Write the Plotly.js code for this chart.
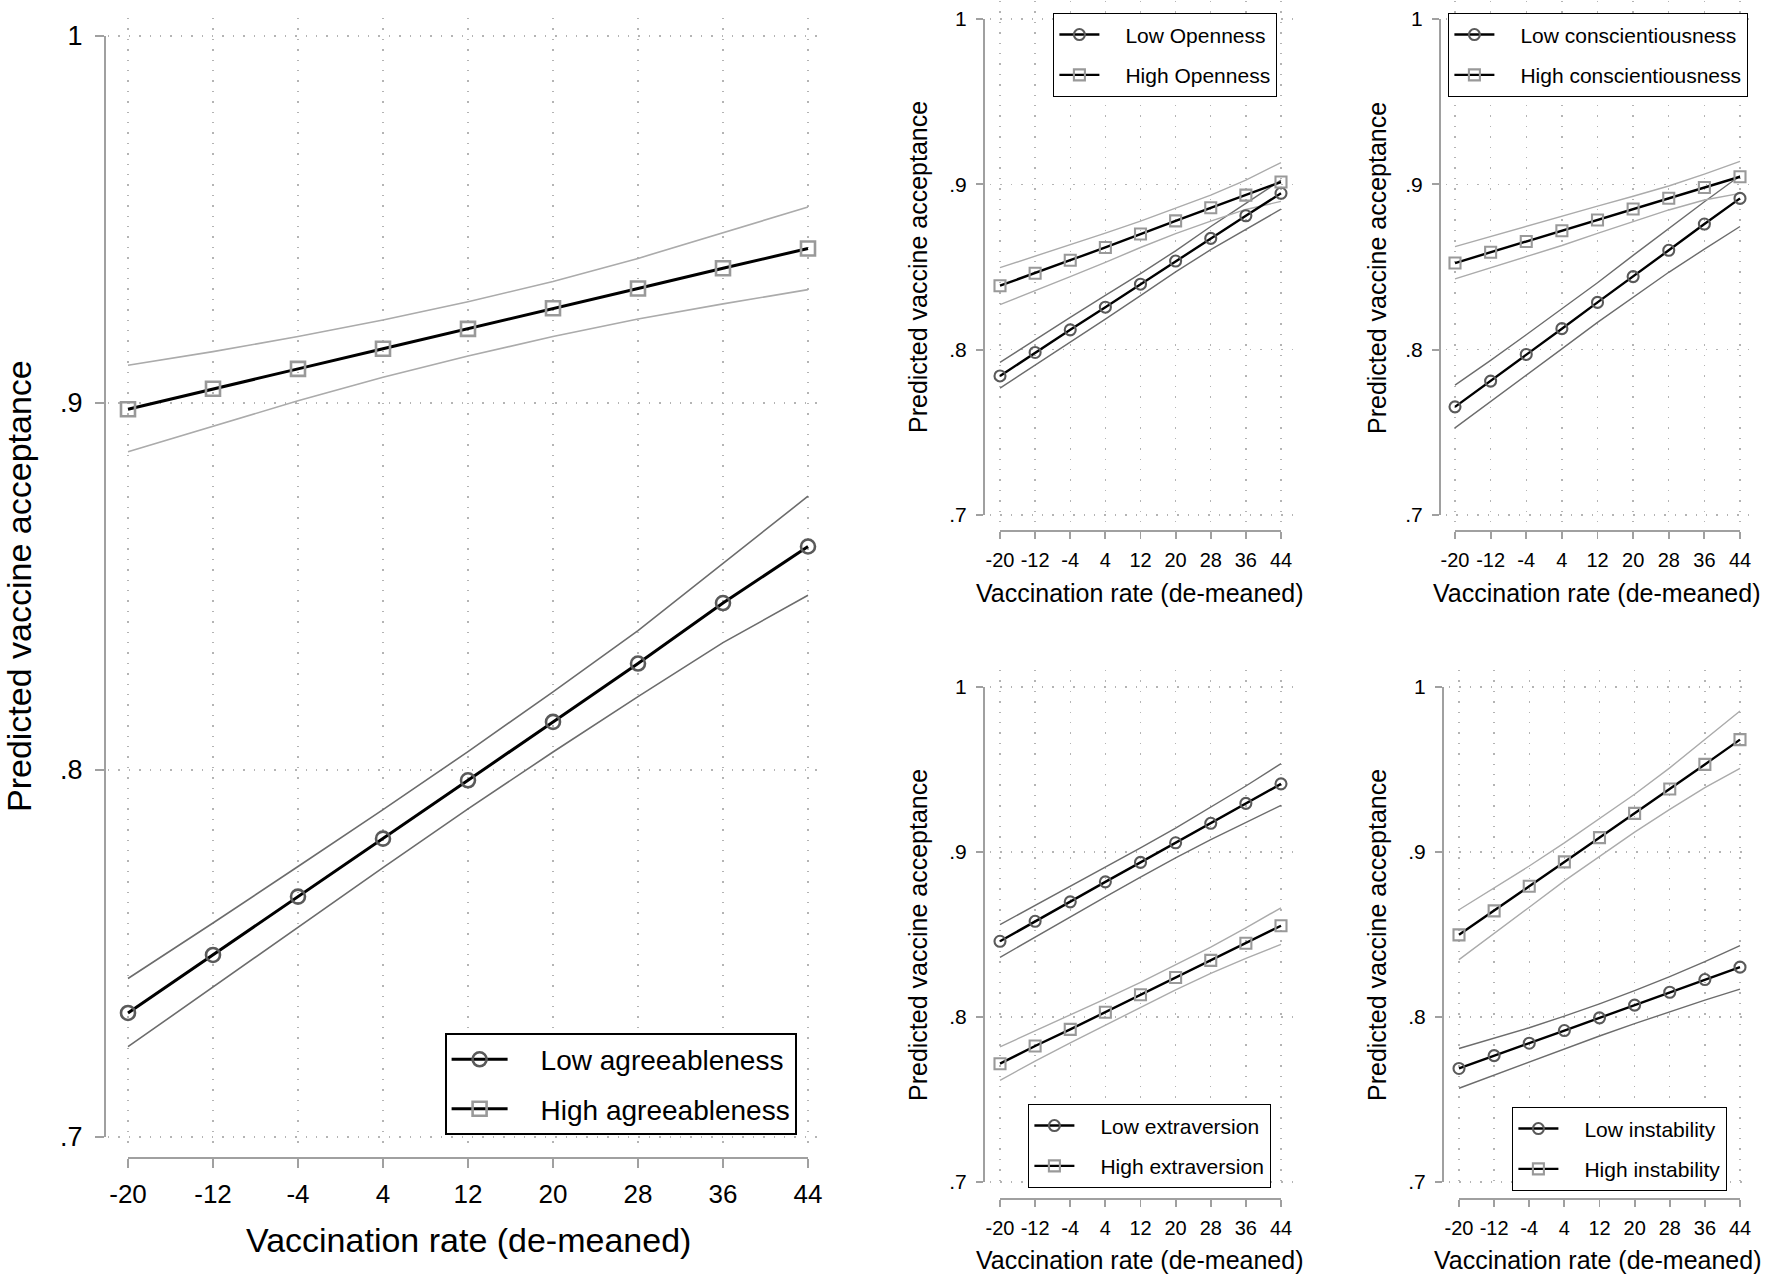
<!DOCTYPE html>
<html>
<head>
<meta charset="utf-8">
<script src="https://cdn.plot.ly/plotly-3.0.1.min.js"></script>
<style>
  html, body { margin: 0; padding: 0; background: #fff; }
  #chart { width: 1772px; height: 1281px; }
</style>
</head>
<body>
<div id="chart"></div>
<script>
// x values and tick labels
const vaxRate = [-20, -12, -4, 4, 12, 20, 28, 36, 44];
const yTickVals = [0.7, 0.8, 0.9, 1];
const yTickText = ['.7', '.8', '.9', '1'];

// agreeableness
const lowAgree   = [0.7338, 0.7496, 0.7655, 0.7813, 0.7972, 0.8131, 0.8290, 0.8455, 0.8609];
const lowAgreeHi = [0.7432, 0.7583, 0.7737, 0.7892, 0.8050, 0.8213, 0.8380, 0.8563, 0.8746];
const lowAgreeLo = [0.7246, 0.7409, 0.7573, 0.7734, 0.7894, 0.8049, 0.8200, 0.8347, 0.8476];
const highAgree   = [0.8983, 0.9039, 0.9093, 0.9148, 0.9202, 0.9258, 0.9312, 0.9367, 0.9421];
const highAgreeHi = [0.9103, 0.9140, 0.9181, 0.9226, 0.9276, 0.9331, 0.9394, 0.9464, 0.9534];
const highAgreeLo = [0.8867, 0.8937, 0.9006, 0.9070, 0.9128, 0.9181, 0.9229, 0.9270, 0.9309];

// openness
const lowOpen   = [0.7841, 0.7983, 0.8120, 0.8257, 0.8396, 0.8536, 0.8673, 0.8810, 0.8946];
const lowOpenHi = [0.7923, 0.8060, 0.8195, 0.8328, 0.8460, 0.8598, 0.8745, 0.8885, 0.9025];
const lowOpenLo = [0.7767, 0.7905, 0.8045, 0.8185, 0.8327, 0.8470, 0.8605, 0.8730, 0.8850];
const highOpen   = [0.8387, 0.8462, 0.8541, 0.8618, 0.8700, 0.8779, 0.8858, 0.8935, 0.9014];
const highOpenHi = [0.8496, 0.8565, 0.8635, 0.8705, 0.8778, 0.8855, 0.8935, 0.9025, 0.9132];
const highOpenLo = [0.8272, 0.8355, 0.8442, 0.8528, 0.8618, 0.8702, 0.8778, 0.8848, 0.8897];

// conscientiousness
const lowConsc   = [0.7654, 0.7810, 0.7971, 0.8127, 0.8286, 0.8442, 0.8601, 0.8760, 0.8915];
const lowConscHi = [0.7786, 0.7935, 0.8090, 0.8245, 0.8405, 0.8570, 0.8735, 0.8895, 0.9052];
const lowConscLo = [0.7527, 0.7685, 0.7845, 0.8005, 0.8165, 0.8318, 0.8468, 0.8608, 0.8745];
const highConsc   = [0.8524, 0.8589, 0.8654, 0.8719, 0.8784, 0.8851, 0.8916, 0.8981, 0.9046];
const highConscHi = [0.8623, 0.8685, 0.8747, 0.8808, 0.8868, 0.8928, 0.8990, 0.9062, 0.9139];
const highConscLo = [0.8428, 0.8495, 0.8562, 0.8630, 0.8703, 0.8775, 0.8845, 0.8905, 0.8945];

// extraversion
const lowExtra   = [0.8459, 0.8580, 0.8698, 0.8819, 0.8937, 0.9056, 0.9174, 0.9295, 0.9413];
const lowExtraHi = [0.8560, 0.8675, 0.8790, 0.8905, 0.9025, 0.9145, 0.9270, 0.9400, 0.9536];
const lowExtraLo = [0.8362, 0.8485, 0.8605, 0.8728, 0.8848, 0.8965, 0.9075, 0.9180, 0.9283];
const highExtra   = [0.7717, 0.7824, 0.7925, 0.8029, 0.8135, 0.8239, 0.8343, 0.8447, 0.8553];
const highExtraHi = [0.7819, 0.7915, 0.8012, 0.8110, 0.8210, 0.8315, 0.8423, 0.8540, 0.8662];
const highExtraLo = [0.7616, 0.7733, 0.7843, 0.7950, 0.8060, 0.8165, 0.8265, 0.8355, 0.8440];

// instability
const lowInst   = [0.7688, 0.7766, 0.7841, 0.7918, 0.7995, 0.8072, 0.8150, 0.8227, 0.8302];
const lowInstHi = [0.7809, 0.7870, 0.7935, 0.8005, 0.8080, 0.8160, 0.8245, 0.8335, 0.8432];
const lowInstLo = [0.7568, 0.7648, 0.7728, 0.7808, 0.7885, 0.7960, 0.8032, 0.8102, 0.8169];
const highInst   = [0.8498, 0.8643, 0.8792, 0.8940, 0.9087, 0.9234, 0.9382, 0.9531, 0.9681];
const highInstHi = [0.8650, 0.8780, 0.8915, 0.9055, 0.9200, 0.9350, 0.9510, 0.9680, 0.9855];
const highInstLo = [0.8348, 0.8505, 0.8665, 0.8825, 0.8975, 0.9120, 0.9258, 0.9390, 0.9507];

const xTitle = 'Vaccination rate (de-meaned)';
const yTitle = 'Predicted vaccine acceptance';

const W = 1772, H = 1281;
const FONT = 'Arial, "Liberation Sans", sans-serif';
const fx = p => p / W;
const fy = p => 1 - p / H;

// pixel frame of each panel (where -20/44 and .7/1 sit, axis lines, grid extent)
const panels = [
    { big: true, x0: 128, x1: 808, y1: 36, y0: 1137, axX: 105, axY: 1158, gL: 108, gR: 822, gT: 18, gB: 1148,
      yt: [19, 586], xt: [468, 1240], leg: [445, 1033],
      low: [lowAgree, lowAgreeHi, lowAgreeLo, 'Low agreeableness'],
      high: [highAgree, highAgreeHi, highAgreeLo, 'High agreeableness'] },
    { x0: 1000, x1: 1281, y1: 19, y0: 515, axX: 983, axY: 530, gL: 990, gR: 1295, gT: 1, gB: 524,
      yt: [918, 267], xt: [1140, 593], leg: [1053, 13],
      low: [lowOpen, lowOpenHi, lowOpenLo, 'Low Openness'],
      high: [highOpen, highOpenHi, highOpenLo, 'High Openness'] },
    { x0: 1455, x1: 1740, y1: 19, y0: 515, axX: 1439, axY: 530, gL: 1446, gR: 1750, gT: 1, gB: 524,
      yt: [1377, 268], xt: [1597, 593], leg: [1448, 13],
      low: [lowConsc, lowConscHi, lowConscLo, 'Low conscientiousness'],
      high: [highConsc, highConscHi, highConscLo, 'High conscientiousness'] },
    { x0: 1000, x1: 1281, y1: 687, y0: 1182, axX: 983, axY: 1198, gL: 990, gR: 1295, gT: 670, gB: 1190,
      yt: [918, 935], xt: [1140, 1260], leg: [1028, 1104],
      low: [lowExtra, lowExtraHi, lowExtraLo, 'Low extraversion'],
      high: [highExtra, highExtraHi, highExtraLo, 'High extraversion'] },
    { x0: 1459, x1: 1740, y1: 687, y0: 1182, axX: 1442, axY: 1198, gL: 1449, gR: 1750, gT: 670, gB: 1190,
      yt: [1377, 935], xt: [1598, 1260], leg: [1512, 1107],
      low: [lowInst, lowInstHi, lowInstLo, 'Low instability'],
      high: [highInst, highInstHi, highInstLo, 'High instability'] },
];

const traces = [];
const layout = {
    width: W, height: H,
    margin: { l: 0, r: 0, t: 0, b: 0 },
    paper_bgcolor: '#fff',
    plot_bgcolor: 'rgba(0,0,0,0)',
    font: { family: FONT, color: '#000' },
    hovermode: false,
    annotations: [],
};

const xMin = vaxRate[0], xMax = vaxRate[vaxRate.length - 1];
const yMin = yTickVals[0], yMax = yTickVals[yTickVals.length - 1];

panels.forEach((p, i) => {
    const n = i + 1;          // grid + data axes
    const m = i + 6;          // axis-line axes
    const sfx = k => (k === 1 ? '' : k);
    const big = !!p.big;
    const legName = n === 1 ? 'legend' : 'legend' + n;

    const ux = (p.x1 - p.x0) / (xMax - xMin);
    const uy = (p.y0 - p.y1) / (yMax - yMin);

    const grid = {
        showgrid: true, gridcolor: '#b4b4b4', gridwidth: 1.4, griddash: '1.4px,9px',
        showline: false, zeroline: false, ticks: '', showticklabels: false,
        tickmode: 'array',
    };
    layout['xaxis' + sfx(n)] = Object.assign({}, grid, {
        domain: [fx(p.gL), fx(p.gR)],
        range: [xMin - (p.x0 - p.gL) / ux, xMax + (p.gR - p.x1) / ux],
        tickvals: vaxRate, anchor: 'y' + sfx(n),
    });
    layout['yaxis' + sfx(n)] = Object.assign({}, grid, {
        domain: [fy(p.gB), fy(p.gT)],
        range: [yMin - (p.gB - p.y0) / uy, yMax + (p.y1 - p.gT) / uy],
        tickvals: yTickVals, anchor: 'x' + sfx(n),
    });

    const tickSize = big ? 26 : 20;
    const line = {
        showgrid: false, zeroline: false, showline: true,
        linecolor: '#a0a0a0', linewidth: big ? 2 : 1.8,
        ticks: 'outside', ticklen: big ? 9 : 7, tickwidth: big ? 2 : 1.8, tickcolor: '#a0a0a0',
        tickfont: { family: FONT, size: tickSize, color: '#000' },
        tickmode: 'array', anchor: 'free',
    };
    layout['xaxis' + m] = Object.assign({}, line, {
        domain: [fx(p.x0), fx(p.x1)], range: [xMin, xMax],
        tickvals: vaxRate, ticktext: vaxRate.map(String),
        position: fy(p.axY), ticklabelstandoff: 4,
    });
    layout['yaxis' + m] = Object.assign({}, line, {
        domain: [fy(p.y0), fy(p.y1)], range: [yMin, yMax],
        tickvals: yTickVals, ticktext: yTickText,
        position: fx(p.axX), ticklabelstandoff: big ? 7 : 5,
        tickfont: { family: FONT, size: big ? 27 : 21, color: '#000' },
    });
    // empty trace so the axis-line subplot exists
    traces.push({ x: [], y: [], xaxis: 'x' + m, yaxis: 'y' + m, type: 'scatter', showlegend: false });

    const ciW = big ? 1.6 : 1.4;
    const xa = 'x' + sfx(n), ya = 'y' + sfx(n);
    const ci = (ys, color) => ({
        x: vaxRate, y: ys, xaxis: xa, yaxis: ya, type: 'scatter', mode: 'lines',
        line: { color: color, width: ciW }, showlegend: false,
    });
    traces.push(ci(p.low[1], '#6c6c6c'), ci(p.low[2], '#6c6c6c'));
    traces.push(ci(p.high[1], '#ababab'), ci(p.high[2], '#ababab'));

    const main = (s, sym, mcol, grp) => ({
        x: vaxRate, y: s[0], name: '\u2003' + s[3], xaxis: xa, yaxis: ya, type: 'scatter', mode: 'lines+markers',
        line: { color: '#000', width: big ? 3 : 2.4 },
        marker: { symbol: sym, color: mcol, size: big ? 14 : 11, line: { color: mcol, width: big ? 2.6 : 2.1 } },
        legend: legName, legendgroup: grp, cliponaxis: false,
    });
    traces.push(main(p.low, 'circle-open', '#5a5a5a', 'low' + n));
    traces.push(main(p.high, 'square-open', '#999999', 'high' + n));

    layout[legName] = {
        x: fx(p.leg[0]), y: fy(p.leg[1]), xanchor: 'left', yanchor: 'top',
        bgcolor: '#fff', bordercolor: '#000', borderwidth: big ? 1.6 : 1.4,
        font: { family: FONT, size: big ? 28 : 21, color: '#000' },
        itemwidth: big ? 56 : 40, traceorder: 'grouped', tracegroupgap: 10,
    };

    layout.annotations.push({
        text: yTitle, xref: 'paper', yref: 'paper', x: fx(p.yt[0]), y: fy(p.yt[1]),
        xanchor: 'center', yanchor: 'middle', textangle: -90, showarrow: false,
        font: { family: FONT, size: big ? 34 : 25, color: '#000' },
    });
    layout.annotations.push({
        text: xTitle, xref: 'paper', yref: 'paper', x: fx(p.xt[0]), y: fy(p.xt[1]),
        xanchor: 'center', yanchor: 'middle', showarrow: false,
        font: { family: FONT, size: big ? 34 : 25, color: '#000' },
    });
});

Plotly.newPlot('chart', traces, layout, { displayModeBar: false, staticPlot: true });
</script>
</body>
</html>
